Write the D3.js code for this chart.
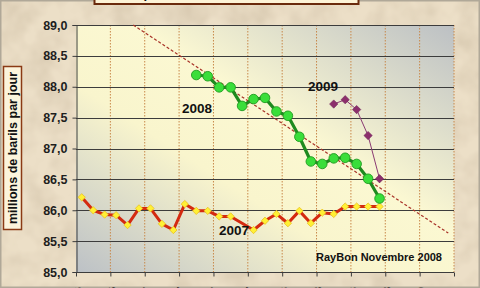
<!DOCTYPE html>
<html>
<head>
<meta charset="utf-8">
<script src="https://cdn.jsdelivr.net/npm/d3@7"></script>
<style>
  html, body { margin: 0; padding: 0; background: #e8dac0; }
  svg { display: block; font-family: "Liberation Sans", Arial, sans-serif; }
</style>
</head>
<body>
<svg id="chart"></svg>
<script>
const width = 480;
const height = 288;

// months of the monthly reports, sept 2006 .. mai 2009
const months = ["sept-06","oct-06","nov-06","déc-06","janv-07","févr-07","mars-07","avr-07","mai-07",
  "juin-07","juil-07","août-07","sept-07","oct-07","nov-07","déc-07","janv-08","févr-08","mars-08",
  "avr-08","mai-08","juin-08","juil-08","août-08","sept-08","oct-08","nov-08","déc-08","janv-09",
  "févr-09","mars-09","avr-09","mai-09"];
const tickLabels = ["sept-06","déc-06","mars-07","juin-07","sept-07","déc-07","mars-08","juin-08","sept-08","déc-08","mars-09"];
const yTicks = [85.0, 85.5, 86.0, 86.5, 87.0, 87.5, 88.0, 88.5, 89.0];

// forecasts (millions de barils par jour), one value per report
const start2007 = "sept-06";
const demand2007 = [86.21, 86.00, 85.93, 85.92, 85.76, 86.03, 86.03, 85.78, 85.68, 86.10, 85.99, 85.99,
  85.90, 85.90, null, 85.68, 85.83, 85.94, 85.79, 85.99, 85.79, 85.96, 85.94, 86.06, 86.06, 86.06, 86.06];
const start2008 = "juil-07";
const demand2008 = [88.19, 88.17, 87.99, 87.99, 87.69, 87.80, 87.82, 87.60, 87.53, 87.19, 86.79, 86.75,
  86.84, 86.85, 86.75, 86.51, 86.19];
const start2009 = "juil-08";
const demand2009 = [87.72, 87.79, 87.63, 87.21, 86.51];

// trend line (month position, value)
const trendX = [4.5, 32.0];
const trendY = [89.0, 85.63];

const margin = {top: 25, right: 26, bottom: 16, left: 76};

const svg = d3.select('#chart')
    .attr('width', width)
    .attr('height', height);

const defs = svg.append('defs');

const paper = defs.append('filter').attr('id', 'paper')
    .attr('x', 0).attr('y', 0).attr('width', '100%').attr('height', '100%');
paper.append('feTurbulence')
    .attr('type', 'fractalNoise').attr('baseFrequency', 0.035).attr('numOctaves', 3).attr('seed', 4)
    .attr('result', 'noise');
paper.append('feColorMatrix')
    .attr('in', 'noise').attr('type', 'matrix')
    .attr('values', '0 0 0 0 0.62  0 0 0 0 0.52  0 0 0 0 0.38  0 0 0 -1.1 0.7')
    .attr('result', 'tint');
paper.append('feComposite').attr('in', 'tint').attr('in2', 'SourceGraphic').attr('operator', 'in');

const plotGrad = defs.append('linearGradient').attr('id', 'plotbg')
    .attr('x1', '100%').attr('y1', '0%').attr('x2', '0%').attr('y2', '100%');
plotGrad.append('stop').attr('offset', '0%').attr('stop-color', '#bcc0c4');
plotGrad.append('stop').attr('offset', '42%').attr('stop-color', '#fbf8d2');
plotGrad.append('stop').attr('offset', '62%').attr('stop-color', '#f9f5cd');
plotGrad.append('stop').attr('offset', '100%').attr('stop-color', '#bcc1c6');

// parchment background
svg.append('rect').attr('width', width).attr('height', height).attr('fill', '#ecdfc7');
svg.append('rect').attr('width', width).attr('height', height).attr('fill', '#ecdfc7')
    .attr('filter', 'url(#paper)');
svg.append('rect').attr('x', 0.5).attr('y', 0.5).attr('width', width - 1).attr('height', height - 1)
    .attr('fill', 'none').attr('stroke', '#b0a898').attr('stroke-width', 2);

const x = d3.scaleBand()
    .domain(months)
    .range([margin.left, width - margin.right])
    .padding(0);
const bw = x.bandwidth();
const xPos = i => margin.left + (i + 0.5) * bw;
const xEdge = i => margin.left + i * bw;

const y = d3.scaleLinear()
    .domain([85, 89])
    .range([height - margin.bottom, margin.top]);

const plotW = width - margin.left - margin.right;
const plotH = height - margin.top - margin.bottom;

svg.append('rect')
    .attr('x', margin.left).attr('y', margin.top)
    .attr('width', plotW).attr('height', plotH)
    .attr('fill', 'url(#plotbg)');

// vertical dotted gridlines every 3 months
const quarterIdx = tickLabels.map(m => months.indexOf(m)).concat([months.length]);
svg.append('g').selectAll('line')
  .data(quarterIdx.slice(1))
  .enter()
    .append('line')
    .attr('x1', d => xEdge(d)).attr('x2', d => xEdge(d))
    .attr('y1', margin.top).attr('y2', height - margin.bottom)
    .attr('stroke', '#c8884a')
    .attr('stroke-width', 1)
    .attr('stroke-dasharray', '1.5,1.5');

// horizontal gridlines
svg.append('g').selectAll('line')
  .data(yTicks.slice(1))
  .enter()
    .append('line')
    .attr('x1', margin.left).attr('x2', width - margin.right)
    .attr('y1', d => Math.round(y(d)) + 0.5).attr('y2', d => Math.round(y(d)) + 0.5)
    .attr('stroke', '#3c3c3c')
    .attr('stroke-width', 1);

// y axis
const yAxis = svg.append('g')
    .attr('transform', `translate(${margin.left + 0.5},0)`)
    .call(d3.axisLeft(y).tickValues(yTicks).tickSize(4).tickPadding(5)
        .tickFormat(d => d3.format('.1f')(d).replace('.', ',')));
yAxis.select('.domain').attr('stroke', '#3c3c3c');
yAxis.selectAll('line').attr('stroke', '#3c3c3c');
yAxis.selectAll('text')
    .attr('font-size', 12.5).attr('font-weight', 'bold').attr('fill', '#1e1e1e')
    .attr('font-family', '"Liberation Sans", Arial, sans-serif');

// x axis
const xAxis = svg.append('g')
    .attr('transform', `translate(0,${height - margin.bottom + 0.5})`);
xAxis.append('line')
    .attr('x1', margin.left).attr('x2', width - margin.right)
    .attr('stroke', '#3c3c3c');
xAxis.selectAll('.tick')
  .data(quarterIdx)
  .enter()
    .append('line')
    .attr('x1', d => xEdge(d) + 0.5).attr('x2', d => xEdge(d) + 0.5)
    .attr('y1', 0).attr('y2', 4)
    .attr('stroke', '#3c3c3c');
xAxis.selectAll('text')
  .data(tickLabels)
  .enter()
    .append('text')
    .attr('transform', d => `translate(${xEdge(months.indexOf(d)) + 2},${14.5}) rotate(-90)`)
    .attr('text-anchor', 'end')
    .attr('dy', '0.35em')
    .attr('font-size', 11).attr('font-weight', 'bold').attr('fill', '#1e1e1e')
    .text(d => d);

// trend line
svg.append('line')
    .attr('x1', xPos(trendX[0])).attr('y1', y(trendY[0]))
    .attr('x2', xPos(trendX[1])).attr('y2', y(trendY[1]))
    .attr('stroke', '#a83228')
    .attr('stroke-width', 1.2)
    .attr('stroke-dasharray', '3,2');

const toPoints = (start, values) => values
    .map((v, i) => ({i: months.indexOf(start) + i, v}))
    .filter(d => d.v !== null);

const line = d3.line().x(d => xPos(d.i)).y(d => y(d.v));
const diamond = d3.symbol().type(d3.symbolDiamond2);

// 2007
const pts2007 = toPoints(start2007, demand2007);
svg.append('path').datum(pts2007)
    .attr('d', line).attr('fill', 'none')
    .attr('stroke', '#d42a10').attr('stroke-width', 3).attr('stroke-linejoin', 'round');
svg.append('g').selectAll('path')
  .data(pts2007)
  .enter()
    .append('path')
    .attr('d', diamond.size(34))
    .attr('transform', d => `translate(${xPos(d.i)},${y(d.v)})`)
    .attr('fill', '#fff035')
    .attr('stroke', '#e8c020')
    .attr('stroke-width', 0.8);

// 2009
const pts2009 = toPoints(start2009, demand2009);
svg.append('path').datum(pts2009)
    .attr('d', line).attr('fill', 'none')
    .attr('stroke', '#8a3a72').attr('stroke-width', 1);
svg.append('g').selectAll('path')
  .data(pts2009)
  .enter()
    .append('path')
    .attr('d', diamond.size(44))
    .attr('transform', d => `translate(${xPos(d.i)},${y(d.v)})`)
    .attr('fill', '#8c2f6c')
    .attr('stroke', '#70245a')
    .attr('stroke-width', 0.6);

// 2008
const pts2008 = toPoints(start2008, demand2008);
svg.append('path').datum(pts2008)
    .attr('d', line).attr('fill', 'none')
    .attr('stroke', '#1f8a1f').attr('stroke-width', 3.2).attr('stroke-linejoin', 'round');
svg.append('g').selectAll('circle')
  .data(pts2008)
  .enter()
    .append('circle')
    .attr('cx', d => xPos(d.i))
    .attr('cy', d => y(d.v))
    .attr('r', 4.8)
    .attr('fill', '#3ade3a')
    .attr('stroke', '#209a20')
    .attr('stroke-width', 0.9);

// series labels
const labelText = (txt, lx, ly) => svg.append('text')
    .attr('x', lx).attr('y', ly)
    .attr('font-size', 13.5).attr('font-weight', 'bold').attr('fill', '#111')
    .text(txt);
labelText('2008', 182, 113);
labelText('2009', 308, 91);
labelText('2007', 219, 235);

svg.append('text')
    .attr('x', 442).attr('y', 261)
    .attr('text-anchor', 'end')
    .attr('font-size', 11).attr('font-weight', 'bold').attr('fill', '#111')
    .text('RayBon Novembre 2008');

// y axis title box
svg.append('rect')
    .attr('x', 3.5).attr('y', 66.5).attr('width', 18).attr('height', 163)
    .attr('fill', '#fcf4dc').attr('stroke', '#8a3a14').attr('stroke-width', 1.5);
svg.append('text')
    .attr('transform', 'translate(17,148) rotate(-90)')
    .attr('text-anchor', 'middle')
    .attr('font-size', 12.5).attr('font-weight', 'bold').attr('fill', '#111')
    .text('millions de barils par jour');

// title box, cut by the top edge
svg.append('rect')
    .attr('x', 94.5).attr('y', -22).attr('width', 264).attr('height', 26)
    .attr('fill', '#fdf3d6').attr('stroke', '#6a2a0c').attr('stroke-width', 2);
svg.append('text')
    .attr('x', 226).attr('y', -2)
    .attr('text-anchor', 'middle')
    .attr('font-size', 13).attr('font-weight', 'bold').attr('fill', '#111')
    .text('Les prévisions mensuelles de l\u2019AIE');
</script>
</body>
</html>
